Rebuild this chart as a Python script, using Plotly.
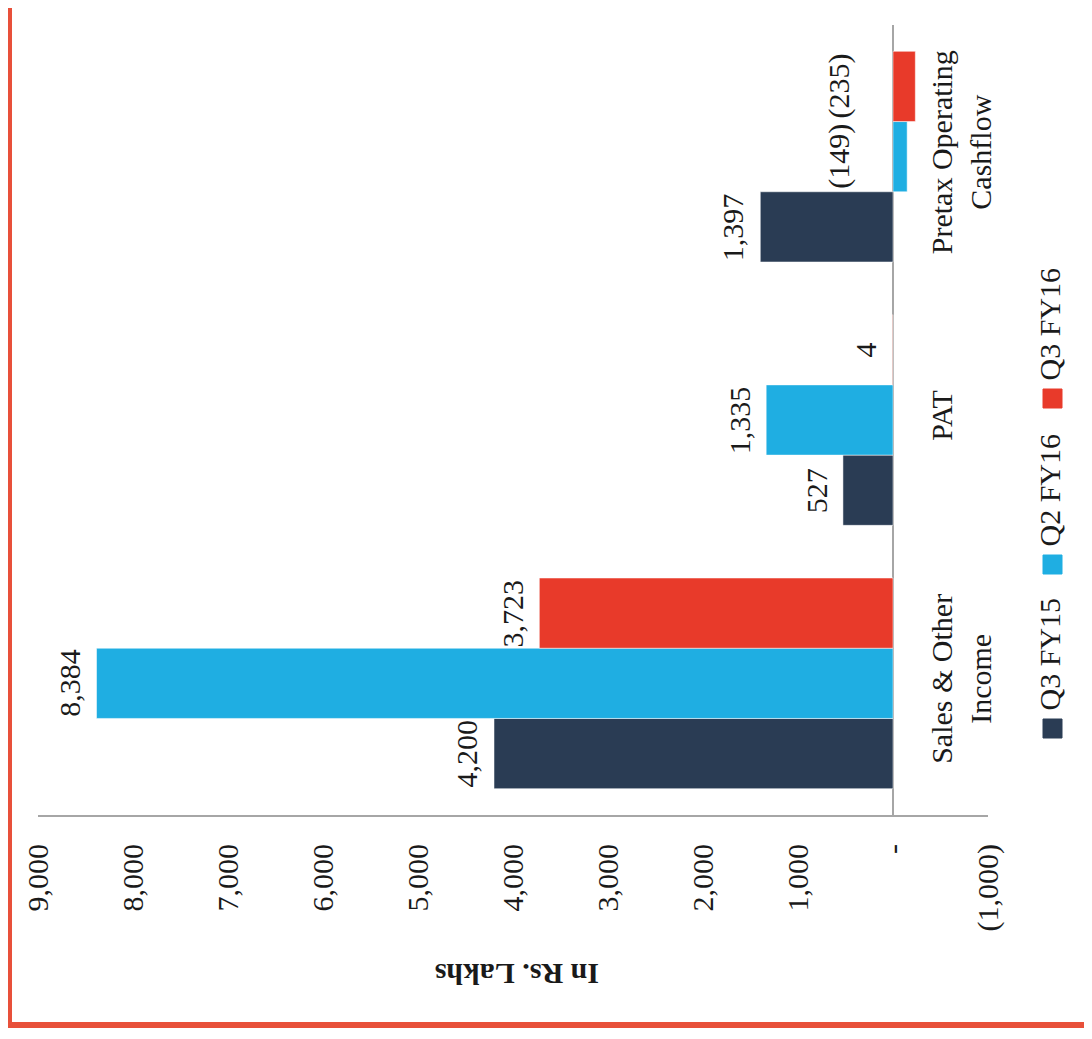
import plotly.graph_objects as go

categories = ["Sales & Other<br>Income", "PAT", "Pretax Operating<br>Cashflow"]
series_names = ["Q3 FY15", "Q2 FY16", "Q3 FY16"]
q3_fy15 = [4200, 527, 1397]
q2_fy16 = [8384, 1335, -149]
q3_fy16 = [3723, 4, -235]
tick_vals = [9000, 8000, 7000, 6000, 5000, 4000, 3000, 2000, 1000, 0, -1000]
tick_text = ["9,000", "8,000", "7,000", "6,000", "5,000", "4,000", "3,000",
             "2,000", "1,000", "-", "(1,000)"]
axis_title = "In Rs. Lakhs"

colors = ["#2A3C54", "#1FAEE2", "#E83A2A"]
FONT = "Liberation Serif"
FS = 30
OFF = 8  # page body margin
W, H = 1092 - OFF, 1039 - OFF
L, R, T, B = 38 - OFF, 988 - OFF, 25 - OFF, 815 - OFF  # plot area in pixels
BARGAP = 0.2


def px(x):
    return (x - OFF - L) / (R - L)


def py(y):
    return (B - (y - OFF)) / (B - T)


def fmt(v):
    return f"({abs(v):,})" if v < 0 else f"{v:,}"


series = [q3_fy15, q2_fy16, q3_fy16]

fig = go.Figure()
for name, vals, col in zip(series_names, series, colors):
    fig.add_trace(go.Bar(
        y=categories, x=vals, name=name, orientation="h",
        marker=dict(color=col, line=dict(color="rgba(255,255,255,0.5)", width=1)),
        showlegend=False,
    ))

# data labels, rotated like the rest of the chart
step = (1 - BARGAP) / len(series)
for i, vals in enumerate(series):
    for j, v in enumerate(vals):
        fig.add_annotation(
            x=0 if v < 0 else v, y=j + (i - 1) * step,
            xref="x", yref="y", text=fmt(v), textangle=-90, showarrow=False,
            xanchor="center", yanchor="middle", xshift=-54 if v < 0 else -27,
            font=dict(family=FONT, size=FS, color="#1a1a1a"),
        )

# legend drawn by hand (rotated)
sq_top = [719, 555, 389]
for name, col, top in zip(series_names, colors, sq_top):
    fig.add_shape(type="rect", xref="paper", yref="paper",
                  x0=px(1043), x1=px(1062), y0=py(top + 19), y1=py(top),
                  fillcolor=col, line=dict(color=col, width=1))
    fig.add_annotation(xref="paper", yref="paper", x=px(1049), y=py(top - 6),
                       text=name, textangle=-90, showarrow=False,
                       xanchor="center", yanchor="bottom",
                       font=dict(family=FONT, size=FS, color="#1a1a1a"))

fig.add_annotation(xref="paper", yref="paper", x=px(517), y=py(975),
                   text=f"<b>{axis_title}</b>", textangle=180, showarrow=False,
                   xanchor="center", yanchor="middle",
                   font=dict(family=FONT, size=FS, color="#1a1a1a"))

# red page frame
red = "#E8503A"
fig.add_shape(type="line", xref="paper", yref="paper", x0=px(9), x1=px(9),
              y0=py(-10), y1=py(1025), line=dict(color=red, width=6))
fig.add_shape(type="line", xref="paper", yref="paper", x0=px(6), x1=px(1100),
              y0=py(1025), y1=py(1025), line=dict(color=red, width=6))

fig.update_layout(
    width=W, height=H,
    margin=dict(l=L, r=W - R, t=T, b=H - B),
    barmode="group", bargap=BARGAP, bargroupgap=0,
    plot_bgcolor="white", paper_bgcolor="white",
    font=dict(family=FONT, size=FS, color="#1a1a1a"),
    xaxis=dict(
        range=[9000, -1000], tickvals=tick_vals, ticktext=tick_text,
        tickangle=-90, showgrid=False, zeroline=True, zerolinecolor="#A6A6A6",
        zerolinewidth=2, showline=True, linecolor="#A6A6A6", linewidth=2,
        ticks="", ticklabelstandoff=15,
        tickfont=dict(family=FONT, size=FS, color="#1a1a1a"),
    ),
    yaxis=dict(
        anchor="free", position=px(893), side="right", tickangle=-90,
        showgrid=False, showline=False, ticks="", ticklabelstandoff=28,
        tickfont=dict(family=FONT, size=FS, color="#1a1a1a"),
    ),
)

fig.write_html("out.html")
